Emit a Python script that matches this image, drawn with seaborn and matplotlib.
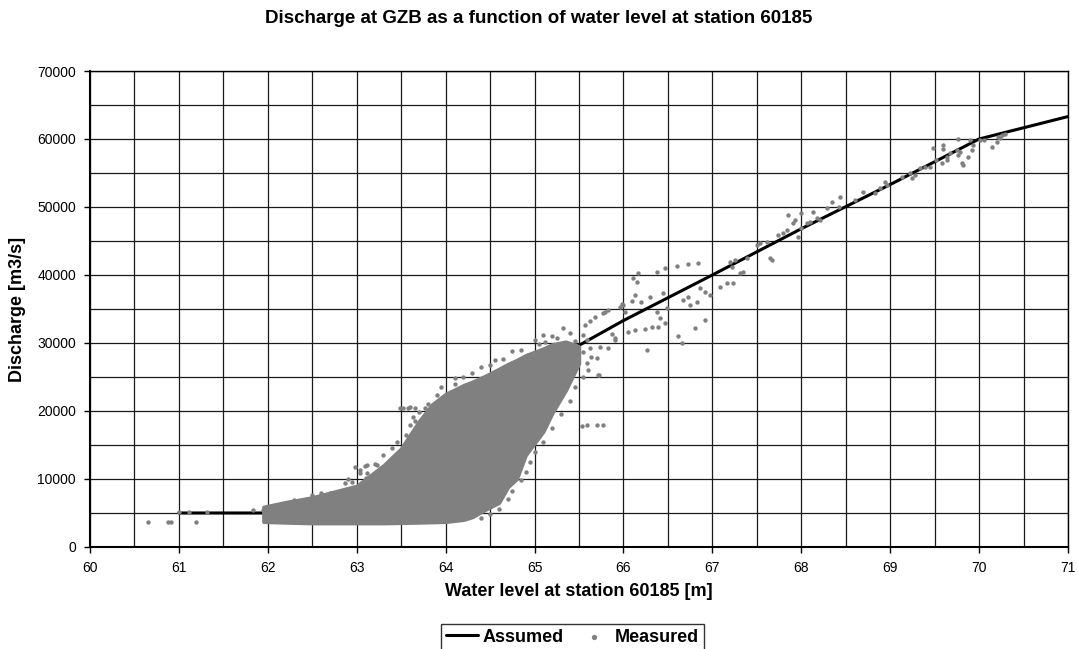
import numpy as np
import pandas as pd
import seaborn as sns
import matplotlib.pyplot as plt
from matplotlib.ticker import MultipleLocator

# Assumed rating curve
assumed_level = [61.0, 62.0, 63.0, 64.0, 65.0, 66.0, 67.0, 68.0, 69.0, 70.0, 71.0]
assumed_q = [5000, 5000, 7200, 15000, 26000, 33300, 40000, 46800, 53300, 60000, 63300]

# Dense core of the measured cloud: lower / upper envelope per water level
cloud_level = [61.95, 62.2, 62.5, 63.0, 63.3, 63.5, 63.7, 63.85, 64.0, 64.2, 64.3,
               64.45, 64.6, 64.7, 64.8, 64.9, 65.1, 65.2, 65.35, 65.5]
cloud_lo = [3700, 3600, 3500, 3500, 3500, 3550, 3600, 3650, 3700, 4000, 4400,
            5500, 6500, 8800, 10000, 13500, 17000, 19700, 23000, 27000]
cloud_hi = [5900, 6600, 7300, 9000, 12000, 14500, 18500, 21000, 22500, 23800, 24300,
            25200, 26200, 26900, 27500, 28200, 29200, 29800, 30200, 29500]

# Individual measured points outside / on the edge of the dense core
meas_level = [
    60.65, 60.88, 60.91, 61.19, 61.00, 61.11, 61.32, 61.83, 61.95,
    62.17, 62.33, 62.44, 62.44, 62.62, 62.64, 62.72, 62.81, 62.87, 62.87, 62.87,
    62.98, 63.04, 63.04, 63.11, 63.09, 63.12, 63.20, 63.23, 63.32, 63.45, 63.57,
    63.49, 63.52, 63.58, 63.60, 63.66, 63.77, 63.60, 63.63, 63.90, 64.01,
    64.10, 64.20, 64.40, 64.55, 64.75, 65.00, 65.20,
    63.30, 63.40, 63.45, 63.55, 63.65, 63.70, 63.80, 63.95, 64.10, 64.30, 64.50,
    64.65, 64.85, 65.05, 65.25, 65.40, 65.45, 65.48,
    62.50, 62.70, 62.95, 63.15, 63.25, 63.35, 62.30, 62.60, 62.90, 63.10,
    64.40, 64.50, 64.60, 64.70, 64.75, 64.85, 64.90, 64.95, 65.00, 65.10, 65.20,
    65.30, 65.40, 65.45, 65.55, 65.60,
    64.87, 65.06, 65.53, 65.59, 65.70, 65.77,
    64.93, 65.10, 65.12, 65.55, 65.70, 65.83, 65.90, 65.71, 65.72, 65.64, 65.59,
    65.57, 65.68, 65.77, 65.99, 66.02, 65.55, 65.59, 65.62, 65.74, 65.87, 65.90, 65.32,
    65.62, 65.79, 65.83, 65.96, 65.98, 66.11, 66.16, 66.15, 66.10, 66.13, 66.20,
    66.05, 66.13, 66.24, 66.32, 66.39, 66.26, 66.30, 66.38, 66.47, 66.38, 66.41,
    66.47, 66.45, 66.49, 66.60, 66.73, 66.84, 66.61, 66.66, 66.67, 66.73, 66.75,
    66.83, 66.86, 66.92, 66.97, 66.80, 66.92, 67.09, 67.17, 67.23, 67.20, 67.22,
    67.31, 67.35, 67.25, 67.39,
    67.50, 67.54, 67.65, 67.67, 67.61, 67.74, 67.79, 67.84, 67.85, 67.91, 67.93,
    67.96, 68.00, 68.00, 68.06, 68.10, 68.13, 68.18, 68.21, 68.29, 68.35, 68.44,
    68.42, 68.60, 68.69, 68.83, 68.89, 68.94, 68.96, 69.13, 69.22, 69.25, 69.28,
    69.34, 69.39, 69.45, 69.48, 69.59, 69.59, 69.52, 69.58, 69.64, 69.64, 69.67,
    69.75, 69.76, 69.79, 69.81, 69.82, 69.76, 69.88, 69.92, 69.93, 69.90, 70.01,
    70.05, 70.15, 70.20, 70.21, 70.26, 70.29, 70.24,
]
meas_q = [
    3700, 3700, 3700, 3700, 5100, 5100, 5100, 5450, 5450,
    6000, 6450, 6750, 6900, 7200, 7200, 6900, 6900, 9400, 8400, 8100,
    11750, 11300, 10900, 10900, 11900, 12050, 12200, 12050, 11750, 13250, 13100,
    20400, 20400, 20400, 20600, 20400, 20400, 17940, 19100, 22350, 22050,
    24000, 25000, 26500, 27500, 28800, 30500, 31000,
    13500, 14500, 15500, 16500, 18500, 19800, 21000, 23500, 24800, 25600, 26800,
    27700, 29000, 29800, 30800, 31500, 30300, 29000,
    7600, 8000, 9500, 9800, 10500, 11000, 6900, 7900, 10000, 10200,
    4300, 4800, 5600, 7000, 8200, 9800, 11000, 12500, 14000, 15500, 17500,
    19500, 21500, 23500, 25000, 26000,
    16200, 16800, 17800, 17940, 17940, 17940,
    28200, 31200, 30150, 28700, 27800, 29250, 30700, 25300, 25300, 27950, 27050,
    32650, 33800, 34400, 35600, 34600, 31200, 30400, 29250, 29400, 31300, 30400, 32200,
    33200, 34550, 34850, 35300, 35700, 39550, 40300, 39000, 36200, 37050, 36000,
    31600, 31900, 32050, 32350, 32400, 28970, 36800, 40450, 41000, 34550, 33650,
    32950, 37350, 35150, 41300, 41600, 41750, 31000, 30000, 36300, 36800, 35600,
    36000, 38100, 37500, 37050, 32200, 33400, 38250, 38800, 38800, 41900, 41200,
    40300, 40450, 42200, 42500,
    44400, 44700, 42500, 42200, 44850, 45900, 46200, 46600, 48800, 47650, 48100,
    45600, 49100, 46900, 47650, 47800, 49250, 48400, 48100, 49850, 50700, 51500,
    50000, 51000, 52200, 52000, 52800, 53700, 53250, 54400, 55000, 54300, 54700,
    55750, 55900, 55900, 58700, 59100, 58500, 56900, 56500, 56900, 57350, 57900,
    58400, 57650, 58100, 56500, 56200, 60000, 57350, 58400, 59100, 59850, 59850,
    59850, 58800, 59550, 60300, 60600, 60750, 60150,
]

grey = '#808080'

sns.set_theme(style='white')
plt.rcParams['font.family'] = ['Liberation Sans', 'DejaVu Sans']

fig = plt.figure(figsize=(10.78, 6.49), dpi=100)
ax = fig.add_axes([0.0835, 0.1572, 0.9072, 0.7334])

assumed = pd.DataFrame({'level': assumed_level, 'q': assumed_q})
measured = pd.DataFrame({'level': meas_level, 'q': meas_q})

sns.lineplot(data=assumed, x='level', y='q', color='black', linewidth=2.2,
             estimator=None, sort=False, ax=ax, label='Assumed', zorder=2)
ax.fill_between(cloud_level, cloud_lo, cloud_hi, color=grey, linewidth=2.5,
                edgecolor=grey, zorder=3)
sns.scatterplot(data=measured, x='level', y='q', color=grey, s=10, marker='o',
                linewidth=0, ax=ax, label='Measured', zorder=4)

ax.set_xlim(60, 71)
ax.set_ylim(0, 70000)
ax.xaxis.set_major_locator(MultipleLocator(1))
ax.xaxis.set_minor_locator(MultipleLocator(0.5))
ax.yaxis.set_major_locator(MultipleLocator(10000))
ax.yaxis.set_minor_locator(MultipleLocator(5000))
ax.grid(True, which='both', color='#1a1a1a', linewidth=0.9, zorder=0)
ax.set_axisbelow(True)
ax.tick_params(axis='both', which='major', direction='out', length=4, width=1,
               color='black', labelcolor='black', labelsize=10, pad=6,
               bottom=True, left=True)
ax.tick_params(axis='both', which='minor', length=0)
for side in ['top', 'right']:
    ax.spines[side].set_color('black')
    ax.spines[side].set_linewidth(1.0)
for side in ['bottom', 'left']:
    ax.spines[side].set_color('black')
    ax.spines[side].set_linewidth(1.5)

ax.set_xlabel('Water level at station 60185 [m]', fontsize=13, fontweight='bold',
              color='black', labelpad=6)
ax.set_ylabel('Discharge [m3/s]', fontsize=13, fontweight='bold', color='black',
              labelpad=8)
fig.suptitle('Discharge at GZB as a function of water level at station 60185',
             fontsize=13.5, fontweight='bold', color='black', y=0.985)

handles, labels = ax.get_legend_handles_labels()
ax.get_legend().remove()
leg = fig.legend(handles, labels, loc='upper left', bbox_to_anchor=(441 / 1078, 1 - 624 / 649),
                 ncol=2, frameon=True, fancybox=False, edgecolor='black',
                 prop={'weight': 'bold', 'size': 13}, handlelength=1.8,
                 handletextpad=0.25, columnspacing=0.8, borderaxespad=0,
                 borderpad=0.25, markerscale=1.2)
leg.get_frame().set_linewidth(1.0)
for t in leg.get_texts():
    t.set_color('black')

fig.savefig('out.png', dpi=100)
